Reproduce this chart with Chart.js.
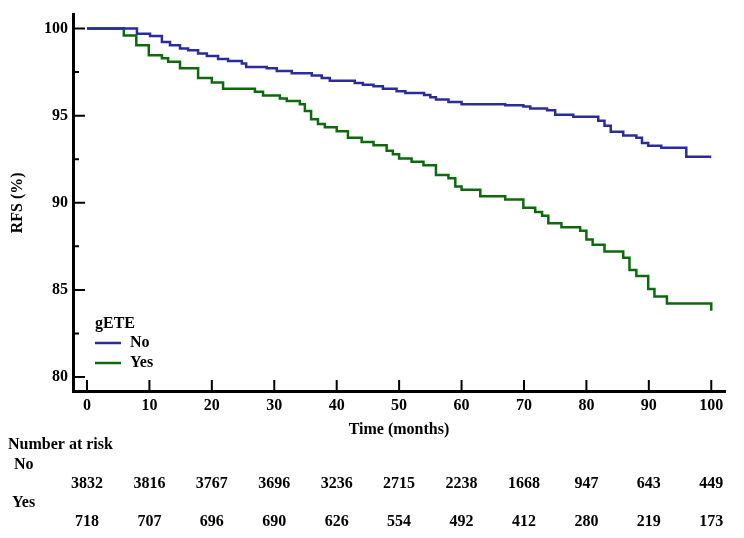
<!DOCTYPE html>
<html lang="en">
<head>
    <meta charset="UTF-8">
    <title>RFS by gETE</title>
    <script src="https://cdn.jsdelivr.net/npm/chart.js"></script>
    <style>
        html, body {
            margin: 0;
            padding: 0;
            background: #fff;
        }

        #wrap {
            width: 744px;
            height: 538px;
        }
    </style>
</head>
<body>
    <div id="wrap"><canvas id="rfsChart"></canvas></div>

    <script>
    // Kaplan-Meier steps (time in months, RFS in %)
    const noTimes = [0, 8, 10.1, 12, 13.3, 14.9, 16.2, 17.8, 19.2, 21, 22.6, 24.8, 25.5, 28.8, 30.4, 32.8, 36, 37.6, 38.9, 42.9, 44.2, 45.9, 47.4, 49.6, 51, 54, 55, 55.9, 57.9, 60, 67, 69.9, 71, 73.7, 75, 77.9, 81.9, 82.9, 83.9, 85.9, 88, 88.9, 89.9, 92, 96, 100];
    const noSurv = [100, 99.7, 99.57, 99.23, 99.04, 98.85, 98.76, 98.57, 98.42, 98.25, 98.14, 98.0, 97.8, 97.72, 97.57, 97.44, 97.31, 97.16, 97.0, 96.88, 96.78, 96.69, 96.55, 96.4, 96.3, 96.18, 96.06, 95.93, 95.78, 95.65, 95.6, 95.52, 95.41, 95.31, 95.05, 94.94, 94.71, 94.42, 94.08, 93.86, 93.73, 93.43, 93.28, 93.16, 92.64, 92.64];

    const yesTimes = [0, 5.9, 7.9, 9.9, 12, 13, 14.9, 17.8, 20, 21.8, 26.9, 28.2, 30.9, 32, 34.1, 34.9, 35.9, 37, 38.1, 40, 41.8, 44, 45.9, 48, 49, 50, 52, 53.9, 55.9, 57.9, 59, 60, 63, 67, 69.9, 71.8, 72.9, 73.9, 76, 79, 80, 81, 82.9, 85.9, 86.9, 88, 89.9, 90.9, 92.9, 100, 100];
    const yesSurv = [100, 99.6, 99.04, 98.47, 98.3, 98.1, 97.72, 97.16, 96.9, 96.54, 96.37, 96.16, 95.99, 95.84, 95.65, 95.27, 94.8, 94.52, 94.33, 94.1, 93.73, 93.49, 93.3, 92.98, 92.79, 92.54, 92.36, 92.16, 91.6, 91.41, 90.94, 90.75, 90.38, 90.19, 89.72, 89.47, 89.25, 88.83, 88.6, 88.4, 87.89, 87.59, 87.21, 86.85, 86.14, 85.8, 85.05, 84.63, 84.22, 84.22, 83.8];

    const xTicks = [0, 10, 20, 30, 40, 50, 60, 70, 80, 90, 100];
    const yTicks = [80, 85, 90, 95, 100];
    const yMinorTicks = [82.5, 87.5, 92.5, 97.5];

    const groupNames = ['No', 'Yes'];
    const riskNo = [3832, 3816, 3767, 3696, 3236, 2715, 2238, 1668, 947, 643, 449];
    const riskYes = [718, 707, 696, 690, 626, 554, 492, 412, 280, 219, 173];

    const blue = '#2b2b9e';
    const green = '#0b6b0b';
    const font = '"Liberation Serif", "Times New Roman", serif';

    function toPoints(xs, ys) {
        return xs.map((x, i) => ({ x: x, y: ys[i] }));
    }

    // inner tick marks, legend and the number-at-risk table
    const extras = {
        id: 'extras',
        afterDraw(chart) {
            const ctx = chart.ctx;
            const xs = chart.scales.x;
            const ys = chart.scales.y;
            const area = chart.chartArea;

            ctx.save();
            ctx.strokeStyle = '#000';
            ctx.lineWidth = 2;
            ctx.beginPath();
            yTicks.forEach(v => {
                const y = ys.getPixelForValue(v);
                ctx.moveTo(area.left, y);
                ctx.lineTo(area.left + 12, y);
            });
            yMinorTicks.forEach(v => {
                const y = ys.getPixelForValue(v);
                ctx.moveTo(area.left, y);
                ctx.lineTo(area.left + 6, y);
            });
            xTicks.forEach(v => {
                const x = xs.getPixelForValue(v);
                ctx.moveTo(x, area.bottom);
                ctx.lineTo(x, area.bottom - 11);
            });
            ctx.stroke();

            // legend
            ctx.fillStyle = '#000';
            ctx.font = 'bold 16px ' + font;
            ctx.textBaseline = 'middle';
            ctx.textAlign = 'left';
            ctx.fillText('gETE', 95, 324);
            chart.data.datasets.forEach((ds, i) => {
                const y = 343 + i * 20;
                ctx.strokeStyle = ds.borderColor;
                ctx.lineWidth = 2.5;
                ctx.beginPath();
                ctx.moveTo(95, y);
                ctx.lineTo(121, y);
                ctx.stroke();
                ctx.fillText(ds.label, 130, y);
            });

            // x axis title
            ctx.textAlign = 'center';
            ctx.fillText('Time (months)', (area.left + area.right) / 2, 430);

            // number at risk
            ctx.textAlign = 'left';
            ctx.fillText('Number at risk', 8, 445);
            ctx.fillText(groupNames[0], 14, 465);
            ctx.fillText(groupNames[1], 12, 503);
            ctx.textAlign = 'center';
            xTicks.forEach((t, i) => {
                const x = xs.getPixelForValue(t);
                ctx.fillText(String(riskNo[i]), x, 484);
                ctx.fillText(String(riskYes[i]), x, 522);
            });
            ctx.restore();
        }
    };

    const data = {
        datasets: [{
            label: groupNames[0],
            data: toPoints(noTimes, noSurv),
            borderColor: blue,
            borderWidth: 2.5,
            stepped: 'before',
            pointRadius: 0,
            fill: false
        }, {
            label: groupNames[1],
            data: toPoints(yesTimes, yesSurv),
            borderColor: green,
            borderWidth: 2.5,
            stepped: 'before',
            pointRadius: 0,
            fill: false
        }]
    };

    const config = {
        type: 'line',
        data: data,
        options: {
            responsive: true,
            maintainAspectRatio: false,
            animation: false,
            layout: {
                padding: { left: 0, top: 9, right: 19, bottom: 0 }
            },
            plugins: {
                legend: { display: false },
                tooltip: { enabled: false }
            },
            scales: {
                x: {
                    type: 'linear',
                    min: -2.24,
                    max: 102.2,
                    afterBuildTicks: axis => { axis.ticks = xTicks.map(v => ({ value: v })); },
                    afterFit: axis => { axis.height = 147; },
                    grid: { display: false, drawTicks: false },
                    border: { display: true, color: '#000', width: 3 },
                    ticks: {
                        padding: 5,
                        color: '#000',
                        font: { family: font, size: 16, weight: 'bold' }
                    }
                },
                y: {
                    type: 'linear',
                    min: 79.2,
                    max: 100.8,
                    afterBuildTicks: axis => { axis.ticks = yTicks.map(v => ({ value: v })); },
                    afterFit: axis => { axis.width = 73; },
                    grid: { display: false, drawTicks: false },
                    border: { display: true, color: '#000', width: 3 },
                    ticks: {
                        padding: 5,
                        color: '#000',
                        font: { family: font, size: 16, weight: 'bold' }
                    },
                    title: {
                        display: true,
                        text: 'RFS (%)',
                        color: '#000',
                        padding: { top: 8, bottom: 0 },
                        font: { family: font, size: 16, weight: 'bold' }
                    }
                }
            }
        },
        plugins: [extras]
    };

    new Chart(document.getElementById('rfsChart').getContext('2d'), config);
    </script>
</body>
</html>
